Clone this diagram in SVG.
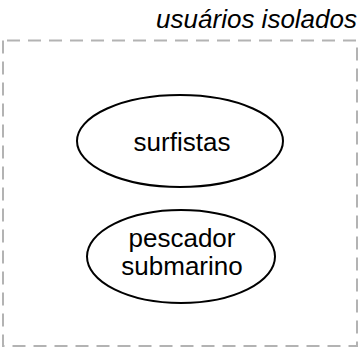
<svg xmlns="http://www.w3.org/2000/svg" width="360" height="354" viewBox="0 0 360 354">
<style>
.node ellipse{fill:#fff;stroke:#000;stroke-width:2}
.t{font-family:"Liberation Sans",Arial,sans-serif;font-size:26px;fill:#000;text-anchor:middle}
</style>
<rect width="360" height="354" fill="#fff"/>
<g id="cluster">
<path d="M3,40.5 L3,346 L357,346 L357,40.5 Z" fill="none" stroke="#b3b3b3" stroke-width="2" stroke-dasharray="13,8"/>
<text x="357" y="28" font-family="Liberation Sans,Arial,sans-serif" font-size="26" font-style="italic" text-anchor="end">usuários isolados</text>
</g>
<g id="connectors"></g>
<g id="surfistas" class="node">
<ellipse cx="180" cy="141" rx="103" ry="46"/>
<text class="t" x="182" y="151">surfistas</text>
</g>
<g id="pescador" class="node">
<ellipse cx="181" cy="256.5" rx="94" ry="46.5"/>
<text class="t" x="182" y="247">pescador</text>
<text class="t" x="182" y="275">submarino</text>
</g>
</svg>
